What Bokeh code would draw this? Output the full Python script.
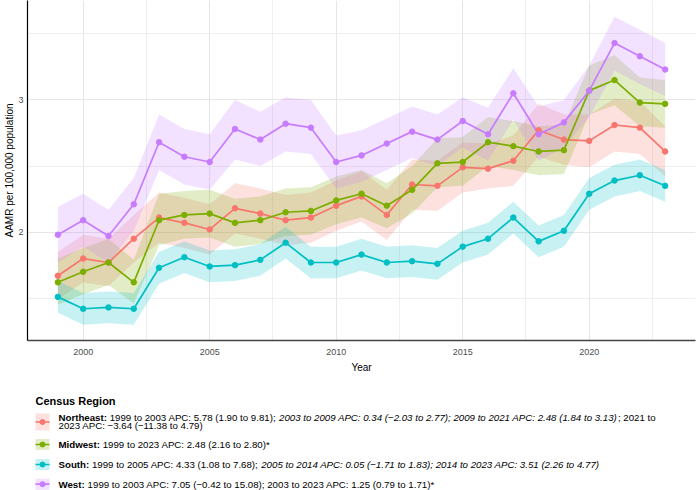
from bokeh.plotting import figure
from bokeh.models import Range1d, FixedTicker, ColumnDataSource
from bokeh.layouts import column
from bokeh.core.properties import value
from bokeh.embed import file_html
from bokeh.resources import INLINE

# ---------------- data ----------------
years = list(range(1999, 2024))

northeast = [1.67, 1.80, 1.77, 1.95, 2.11, 2.07, 2.02, 2.18, 2.14, 2.09, 2.11, 2.20, 2.27,
             2.13, 2.36, 2.35, 2.49, 2.48, 2.54, 2.77, 2.70, 2.69, 2.81, 2.79, 2.61]
northeast_hi = [1.85, 1.98, 1.95, 2.13, 2.30, 2.26, 2.21, 2.37, 2.33, 2.28, 2.30, 2.39, 2.46,
                2.32, 2.55, 2.54, 2.68, 2.67, 2.73, 2.97, 2.89, 2.89, 3.01, 2.99, 2.80]
northeast_lo = [1.49, 1.62, 1.59, 1.77, 1.92, 1.88, 1.83, 1.99, 1.95, 1.90, 1.92, 2.01, 2.08,
                1.94, 2.17, 2.16, 2.30, 2.33, 2.35, 2.57, 2.51, 2.49, 2.61, 2.59, 2.42]

midwest = [1.62, 1.70, 1.77, 1.62, 2.09, 2.13, 2.14, 2.07, 2.09, 2.15, 2.16, 2.24, 2.29,
           2.20, 2.32, 2.52, 2.53, 2.68, 2.65, 2.61, 2.62, 3.07, 3.15, 2.98, 2.97]
midwest_hi = [1.80, 1.88, 1.95, 1.79, 2.29, 2.31, 2.32, 2.25, 2.27, 2.33, 2.34, 2.42, 2.47,
              2.37, 2.50, 2.71, 2.72, 2.87, 2.84, 2.80, 2.81, 3.26, 3.34, 3.17, 3.15]
midwest_lo = [1.45, 1.53, 1.60, 1.46, 1.90, 1.95, 1.96, 1.89, 1.91, 1.97, 1.98, 2.06, 2.11,
              2.03, 2.14, 2.34, 2.35, 2.50, 2.47, 2.43, 2.44, 2.89, 2.96, 2.80, 2.79]

south = [1.51, 1.42, 1.43, 1.42, 1.73, 1.81, 1.74, 1.75, 1.79, 1.92, 1.77, 1.77, 1.83,
         1.77, 1.78, 1.76, 1.89, 1.95, 2.11, 1.93, 2.01, 2.29, 2.39, 2.43, 2.35]
south_hi = [1.63, 1.54, 1.55, 1.54, 1.85, 1.93, 1.86, 1.87, 1.91, 2.04, 1.89, 1.89, 1.95,
            1.89, 1.90, 1.88, 2.01, 2.07, 2.23, 2.05, 2.13, 2.41, 2.51, 2.55, 2.47]
south_lo = [1.39, 1.30, 1.31, 1.30, 1.61, 1.69, 1.62, 1.63, 1.67, 1.80, 1.65, 1.65, 1.71,
            1.65, 1.66, 1.64, 1.77, 1.83, 1.99, 1.81, 1.89, 2.17, 2.27, 2.31, 2.23]

west = [1.98, 2.09, 1.97, 2.21, 2.68, 2.57, 2.53, 2.78, 2.70, 2.82, 2.79, 2.53, 2.58,
        2.67, 2.76, 2.70, 2.84, 2.74, 3.05, 2.74, 2.83, 3.07, 3.43, 3.33, 3.23]
west_hi = [2.19, 2.29, 2.17, 2.41, 2.89, 2.78, 2.74, 3.00, 2.91, 3.02, 3.00, 2.73, 2.77,
           2.86, 2.95, 2.89, 3.02, 2.94, 3.24, 2.95, 3.00, 3.26, 3.63, 3.53, 3.43]
west_lo = [1.77, 1.89, 1.77, 2.01, 2.47, 2.36, 2.32, 2.55, 2.50, 2.61, 2.59, 2.33, 2.38,
           2.47, 2.56, 2.50, 2.64, 2.54, 2.85, 2.54, 2.64, 2.87, 3.22, 3.12, 3.03]

regions = ["Northeast", "Midwest", "South", "West"]
colors = ["#F8766D", "#7CAE00", "#00BFC4", "#C77CFF"]
series = [(northeast, northeast_lo, northeast_hi), (midwest, midwest_lo, midwest_hi),
          (south, south_lo, south_hi), (west, west_lo, west_hi)]

x_ticks = [2000, 2005, 2010, 2015, 2020]
x_minor = [2002.5, 2007.5, 2012.5, 2017.5, 2022.5]
y_ticks = [2, 3]
y_minor = [1.5, 2.5, 3.5]

legend_title = "Census Region"
legend_lines = {
    "Northeast": [
        [("Northeast:", "bold"), (" 1999 to 2003 APC: 5.78 (1.90 to 9.81); ", "normal"),
         ("2003 to 2009 APC: 0.34 (\u22122.03 to 2.77); 2009 to 2021 APC: 2.48 (1.84 to 3.13)", "italic"),
         ("; 2021 to", "normal")],
        [("2023 APC: \u22123.64 (\u221211.38 to 4.79)", "normal")],
    ],
    "Midwest": [[("Midwest:", "bold"), (" 1999 to 2023 APC: 2.48 (2.16 to 2.80)*", "normal")]],
    "South": [[("South:", "bold"), (" 1999 to 2005 APC: 4.33 (1.08 to 7.68); ", "normal"),
               ("2005 to 2014 APC: 0.05 (\u22121.71 to 1.83); 2014 to 2023 APC: 3.51 (2.26 to 4.77)", "italic")]],
    "West": [[("West:", "bold"), (" 1999 to 2003 APC: 7.05 (\u22120.42 to 15.08); 2003 to 2023 APC: 1.25 (0.79 to 1.71)*", "normal")]],
}

FONT = "Liberation Sans"
W = 696
H_MAIN = 375
H_TOTAL = 490
LEFT = 27
RIGHT = 1

# ---------------- main plot ----------------
p = figure(width=W, height=H_MAIN, output_backend="svg", toolbar_location=None,
           x_range=Range1d(1997.8, 2024.2), y_range=Range1d(1.18, 3.752),
           min_border_top=0, min_border_right=RIGHT, min_border_left=LEFT, min_border_bottom=0)
p.outline_line_color = None
p.background_fill_color = "white"
p.border_fill_color = "white"

for (v, lo, hi), c in zip(series, colors):
    p.varea(x=years, y1=lo, y2=hi, fill_color=c, fill_alpha=0.22)
for (v, lo, hi), c in zip(series, colors):
    p.line(x=years, y=v, line_color=c, line_width=1.7)
for (v, lo, hi), c in zip(series, colors):
    p.scatter(x=years, y=v, size=5.5, fill_color=c, line_color=c)

p.xaxis.ticker = FixedTicker(ticks=x_ticks, minor_ticks=x_minor)
p.yaxis.ticker = FixedTicker(ticks=y_ticks, minor_ticks=y_minor)
p.xaxis.axis_label = "Year"
p.yaxis.axis_label = "AAMR per 100,000 population"
for ax in (p.xaxis, p.yaxis):
    ax.axis_label_text_font = FONT
    ax.axis_label_text_font_size = "10px"
    ax.axis_label_text_font_style = "normal"
    ax.axis_label_text_color = "black"
    ax.major_label_text_font = FONT
    ax.major_label_text_font_size = "9px"
    ax.major_label_text_color = "#4d4d4d"
    ax.major_tick_line_color = None
    ax.minor_tick_line_color = None
    ax.major_tick_out = 0
    ax.major_tick_in = 0
    ax.minor_tick_out = 0
    ax.minor_tick_in = 0
p.yaxis.axis_line_color = "black"
p.yaxis.axis_line_width = 1.2
p.xaxis.axis_line_color = "#444444"
p.xaxis.axis_line_width = 1.3
p.yaxis.major_label_standoff = 4
p.yaxis.axis_label_standoff = 0
p.xaxis.major_label_standoff = 8
p.xaxis.axis_label_standoff = 4

for g in (p.xgrid, p.ygrid):
    g.grid_line_color = "#e6e6e6"
    g.grid_line_width = 1.1
    g.minor_grid_line_color = "#ededed"
    g.minor_grid_line_width = 0.9

# ---------------- legend panel (coordinates = page pixels) ----------------
FS = 9.7
REG = {' ': 278, '(': 333, ')': 333, '*': 389, ',': 278, '.': 278, ':': 278, ';': 278,
       '\u2212': 584, 'A': 667, 'C': 722, 'P': 667, 't': 278, 'o': 556}
BOLD = {'N': 722, 'o': 611, 'r': 389, 't': 333, 'h': 611, 'e': 556, 'a': 556, 's': 556,
        ':': 333, 'M': 833, 'i': 278, 'd': 611, 'w': 778, 'S': 667, 'u': 611, 'W': 944, ' ': 278}


def text_width(s, style):
    table = BOLD if style == "bold" else REG
    return sum(table.get(ch, 556) for ch in s) / 1000.0 * FS


leg = figure(width=W, height=H_TOTAL - H_MAIN, output_backend="svg", toolbar_location=None,
             x_range=Range1d(LEFT, W - RIGHT), y_range=Range1d(H_TOTAL, H_MAIN),
             x_axis_location=None, y_axis_location=None,
             min_border=0, min_border_left=LEFT, min_border_right=RIGHT,
             min_border_top=0, min_border_bottom=0)
leg.outline_line_color = None
leg.xgrid.visible = False
leg.ygrid.visible = False

leg.text(x=[35], y=[400.7], text=[legend_title], text_font=value(FONT), text_font_size="11px",
         text_font_style="bold", text_baseline="middle", text_align="left", text_color="black")

key_y = {"Northeast": 421.5, "Midwest": 444.0, "South": 464.0, "West": 483.7}
key_h = {"Northeast": 17, "Midwest": 11, "South": 11, "West": 11}
line_y = {"Northeast": [416.7, 425.0], "Midwest": [443.7], "South": [464.0], "West": [483.7]}

segs = {"bold": dict(x=[], y=[], t=[]), "normal": dict(x=[], y=[], t=[]), "italic": dict(x=[], y=[], t=[])}
for name, c in zip(regions, colors):
    ky = key_y[name]
    leg.rect(x=[42], y=[ky], width=14, height=key_h[name], fill_color=c, fill_alpha=0.22, line_color=None)
    leg.segment(x0=[35], y0=[ky], x1=[49], y1=[ky], line_color=c, line_width=1.7)
    leg.scatter(x=[42], y=[ky], size=5, fill_color=c, line_color=c)
    for ly, parts in zip(line_y[name], legend_lines[name]):
        xx = 58.0
        for s, st in parts:
            stripped = s.lstrip(" ")
            lead = s[:len(s) - len(stripped)]
            segs[st]["x"].append(xx + text_width(lead, st))
            segs[st]["y"].append(ly)
            segs[st]["t"].append(stripped.rstrip(" "))
            xx += text_width(s, st)

for st, d in segs.items():
    src = ColumnDataSource(dict(x=d["x"], y=d["y"], t=d["t"]))
    leg.text(x="x", y="y", text="t", source=src, text_font=value(FONT), text_font_size=f"{FS}px",
             text_font_style=st, text_baseline="middle", text_align="left", text_color="black")

layout = column(p, leg, spacing=0)
open("out.html", "w").write(file_html(layout, INLINE))
